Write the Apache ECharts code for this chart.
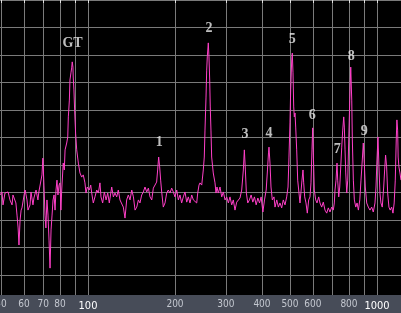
<!DOCTYPE html>
<html>
<head>
<meta charset="utf-8">
<script src="https://cdn.jsdelivr.net/npm/echarts@6/dist/echarts.min.js"></script>
<style>html,body{margin:0;padding:0;background:#000;}#c{width:401px;height:313px;}</style>
</head>
<body>
<div id="c"></div>
<script>
// Frequency (Hz, log scale) of each trace sample
const freqHz = [49.6,50.4,50.8,51.6,52.4,52.9,53.7,54.6,55.0,56.3,56.8,57.3,57.7,58.2,58.7,59.1,60.1,60.6,61.5,62.0,
63.0,63.5,64.5,65.0,66.1,67.1,67.6,68.2,69.3,69.8,70.4,71.0,71.5,72.1,72.7,73.3,73.9,74.5,75.1,75.7,
76.3,76.9,77.5,78.1,78.7,79.4,80.0,80.6,81.1,82.1,82.8,83.3,84.4,85.1,85.5,86.2,86.6,87.3,87.8,88.2,
88.7,88.9,89.4,89.9,90.6,91.4,92.6,93.8,95.1,96.3,97.6,98.4,99.4,101.0,102.2,103.0,104.3,105.7,107.2,108.6,
110.0,110.9,112.4,113.9,115.5,117.0,118.5,120.8,122.4,124.0,125.7,127.3,129.0,130.8,132.5,134.3,136.1,137.9,139.8,141.7,
143.6,145.5,147.5,149.4,151.3,153.4,155.4,157.5,159.7,161.8,163.9,166.2,168.3,170.6,172.8,174.2,175.6,177.0,178.4,179.9,
182.2,184.7,187.2,189.6,192.2,194.8,197.4,200.0,202.8,205.4,208.1,210.9,213.7,216.6,219.6,222.4,225.4,228.5,231.5,234.6,
237.8,239.7,242.2,244.1,247.5,250.6,252.6,254.0,256.1,257.5,258.7,260.8,262.2,263.7,264.9,266.4,267.9,271.3,275.1,277.3,
279.5,282.4,286.3,290.2,294.0,298.0,302.1,306.0,310.0,314.3,318.3,322.6,327.0,331.2,335.7,340.3,344.8,347.6,350.4,353.2,
357.2,361.9,366.9,371.9,376.7,381.9,387.1,392.2,397.3,402.9,408.1,413.6,417.9,421.3,423.0,426.4,429.8,434.3,440.2,443.8,
450.0,455.8,461.7,468.0,474.0,480.5,487.1,492.3,496.0,500.0,502.8,506.9,509.3,512.2,515.1,517.5,520.4,523.3,527.5,531.7,
537.2,541.5,545.8,550.2,554.6,557.7,562.2,568.0,574.0,580.4,586.4,591.1,595.8,599.2,602.1,606.9,613.7,620.1,628.6,635.0,
643.7,652.0,660.9,670.0,678.6,687.7,697.2,706.2,711.8,715.8,721.6,727.3,731.4,737.3,743.2,749.2,755.1,761.2,767.3,771.0,
775.3,779.7,785.9,792.2,798.6,805.0,811.4,817.9,821.9,828.4,835.1,844.5,853.3,862.3,872.0,880.4,889.6,896.8,903.9,911.2,
921.4,933.3,945.8,958.7,971.1,984.3,992.2,1000,1008,1016,1024,1032,1043,1055,1063,1071,1080,1089,1100,1111,
1124,1136,1147,1157,1166,1172,1179,1184,1191,1201,1211];
// Level below the top reference line (dB, larger = lower on screen)
const attenuationDb = [70.9,69.8,74.5,70.2,70.9,69.8,72.7,74.5,70.9,73.8,78.2,82.9,89.1,80.0,76.4,75.6,70.9,69.1,72.7,76.4,
74.5,69.8,74.5,72.0,69.1,72.7,69.8,69.1,63.6,57.5,67.3,78.2,82.9,72.7,78.2,87.3,97.5,83.6,78.2,72.7,
70.9,76.4,69.1,65.5,70.9,67.3,66.5,76.4,69.1,59.3,61.8,54.5,52.0,49.8,42.5,36.4,29.1,26.5,24.7,22.5,
24.4,28.0,32.7,40.0,48.4,54.5,59.3,62.9,64.4,63.6,66.5,70.2,68.0,69.1,67.3,70.2,73.8,71.6,69.1,70.2,
66.5,71.6,73.8,69.8,72.7,70.2,73.8,68.0,71.6,70.2,71.6,69.1,72.7,72.0,75.3,79.3,72.7,70.9,72.7,69.1,
71.6,76.4,75.3,72.7,73.8,70.9,69.8,68.0,69.8,68.4,71.6,72.7,68.4,68.0,66.2,61.8,57.1,60.7,65.5,69.8,
75.3,73.8,70.2,69.1,70.2,68.4,69.8,71.6,69.1,72.7,70.9,73.8,71.6,69.8,73.5,71.6,73.8,70.9,72.7,72.0,
73.8,70.2,67.3,66.5,67.3,61.8,57.1,47.3,35.3,25.5,20.7,15.6,20.7,29.1,38.9,47.3,57.1,62.9,66.5,70.2,
68.0,70.2,68.0,71.6,69.8,72.7,71.6,73.8,71.6,74.5,72.7,76.4,73.5,73.8,72.0,69.1,61.8,54.5,61.8,70.2,
73.8,72.7,70.9,73.5,71.6,74.5,72.0,73.8,71.6,77.1,72.7,69.1,61.8,55.6,53.5,59.3,68.0,72.7,71.6,75.3,
72.7,75.3,73.8,75.6,72.7,74.5,71.6,68.0,57.1,44.7,32.7,21.8,19.3,26.5,38.9,42.5,41.1,46.2,54.5,65.5,
70.2,73.8,69.8,65.5,61.8,66.5,71.6,73.8,77.5,72.7,71.6,66.5,54.5,46.5,55.6,69.1,72.7,73.8,71.6,73.8,
75.3,73.5,76.4,77.5,75.6,77.1,75.3,76.4,73.8,69.1,65.5,59.3,65.5,71.6,68.0,60.7,53.5,47.3,42.5,46.2,
54.5,62.9,70.2,65.5,50.9,36.4,24.4,36.4,50.9,65.5,72.7,75.3,73.8,76.4,72.7,65.5,58.2,52.0,59.3,68.0,
73.8,75.3,76.4,75.3,77.1,73.8,68.0,58.2,49.8,60.7,70.2,73.8,75.3,68.0,61.8,56.4,60.7,70.2,75.3,76.4,
75.3,77.5,73.8,65.5,50.9,43.6,47.3,57.1,60.7,62.9,65.5];
// Peak annotations
const peakNames = ['GT','1','2','3','4','5','6','7','8','9'];
const peakFreq = [88.4,176.6,262.2,349.4,423.0,509.3,597.2,729.0,813.9,903.9];
const peakLabelDb = [15.6,51.6,10.2,48.7,48.4,14.5,41.8,54.5,20.4,47.6];
// Axis ticks
const tickValues = [50,60,70,80,90,100,200,300,400,500,600,700,800,900,1000];
const labelValues = [50,60,70,80,100,200,300,400,500,600,800,1000];
const freqMin = 49.6, freqMax = 1211;
const dbMax = 107.27, dbStep = 10;

const chart = echarts.init(document.getElementById('c'), null, {renderer: 'canvas'});
const trace = freqHz.map((f, i) => [f, attenuationDb[i]]);
const peaks = peakNames.map((n, i) => ({name: n, value: [peakFreq[i], peakLabelDb[i]]}));
const tickFont = '"DejaVu Sans Condensed", "Liberation Sans", sans-serif';

chart.setOption({
  backgroundColor: '#000000',
  animation: false,
  grid: {left: 0, right: 0, top: 0, bottom: 18, containLabel: false, outerBoundsMode: 'none'},
  graphic: {elements: [{type: 'rect', left: 0, top: 295, z: 1,
    shape: {width: 401, height: 18}, style: {fill: '#474c58'}}]},
  xAxis: {
    type: 'log', min: freqMin, max: freqMax, z: 10,
    axisLine: {show: false},
    axisTick: {show: true, length: 3, customValues: tickValues, lineStyle: {color: '#e0e0e0', width: 1}},
    splitLine: {show: true, lineStyle: {color: '#7a7a7a', width: 1}},
    minorTick: {show: false}, minorSplitLine: {show: false},
    axisLabel: {
      customValues: labelValues, margin: 4, hideOverlap: false,
      color: '#c4c8d0', fontSize: 10, fontFamily: tickFont,
      formatter: function (v) {
        const r = Math.round(v);
        return (r === 100 || r === 1000) ? '{b|' + r + '}' : String(r);
      },
      rich: {b: {color: '#ffffff', fontSize: 11, padding: [2, 0, 0, 0], fontFamily: tickFont}}
    }
  },
  yAxis: {
    type: 'value', inverse: true, min: 0, max: dbMax, interval: dbStep,
    axisLine: {show: false}, axisTick: {show: false}, axisLabel: {show: false},
    splitLine: {show: true, lineStyle: {color: '#7a7a7a', width: 1}}
  },
  series: [
    {
      type: 'line', data: trace, z: 20, showSymbol: false, symbol: 'none',
      lineStyle: {color: '#ff40c8', width: 1}, silent: true
    },
    {
      type: 'scatter', data: peaks, z: 30, symbolSize: 1, itemStyle: {color: 'rgba(0,0,0,0)'}, silent: true,
      label: {show: true, position: 'inside', formatter: '{b}', color: '#eeeeee',
        fontFamily: '"Liberation Serif", "DejaVu Serif", serif', fontWeight: 'bold', fontSize: 14}
    }
  ]
});
</script>
</body>
</html>
